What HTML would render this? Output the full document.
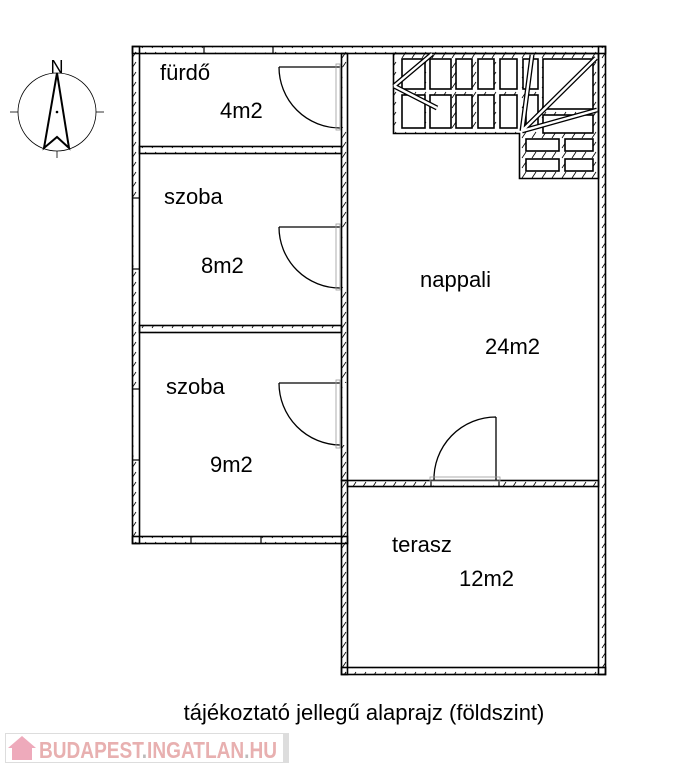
<!DOCTYPE html>
<html><head><meta charset="utf-8"><style>
html,body{margin:0;padding:0;background:#fff;}
svg{display:block;}
text{font-family:"Liberation Sans",Arial,sans-serif;fill:#000;}
</style></head><body>
<svg width="700" height="768" viewBox="0 0 700 768" xmlns="http://www.w3.org/2000/svg">
<defs>
<pattern id="h" width="10" height="10" patternUnits="userSpaceOnUse">
<line x1="2" y1="8" x2="6" y2="2" stroke="#000" stroke-width="0.8"/>
</pattern>
</defs>
<g stroke="#000" stroke-width="1.6" fill="url(#h)">
<rect x="132.5" y="46.5" width="473" height="7"/>
<rect x="132.5" y="46.5" width="7" height="497"/>
<rect x="598.5" y="46.5" width="7" height="628"/>
<rect x="132.5" y="536.5" width="215" height="7"/>
<rect x="341.5" y="480.5" width="6" height="194"/>
<rect x="341.5" y="667.5" width="264" height="7"/>
<rect x="341.5" y="53.5" width="6" height="427"/>
<rect x="139.5" y="146.5" width="202" height="7"/>
<rect x="139.5" y="325.5" width="202" height="7"/>
<rect x="347.5" y="480.5" width="251" height="6"/>
</g>
<g fill="#fff" stroke="none">
<rect x="204" y="47.5" width="69" height="5"/>
<rect x="133.5" y="389" width="5" height="71"/>
<rect x="133.5" y="198" width="5" height="71"/>
<rect x="191" y="537.5" width="70" height="5"/>
<rect x="431" y="481.5" width="68" height="4"/>
<rect x="342.5" y="67" width="4" height="60"/>
<rect x="342.5" y="227" width="4" height="60"/>
<rect x="342.5" y="383" width="4" height="62"/>
</g>
<g stroke="#000" stroke-width="1.2">
<line x1="204" y1="46.5" x2="204" y2="53.5"/><line x1="273" y1="46.5" x2="273" y2="53.5"/>
<line x1="132.5" y1="389" x2="139.5" y2="389"/><line x1="132.5" y1="460" x2="139.5" y2="460"/>
<line x1="132.5" y1="198" x2="139.5" y2="198"/><line x1="132.5" y1="269" x2="139.5" y2="269"/>
<line x1="191" y1="536.5" x2="191" y2="543.5"/><line x1="261" y1="536.5" x2="261" y2="543.5"/>
<line x1="431" y1="480.5" x2="431" y2="486.5"/><line x1="499" y1="480.5" x2="499" y2="486.5"/>
</g>
<g stroke="#000" stroke-width="1.3" fill="none">
<path d="M279 67 H340 M279 67 A61 61 0 0 0 340 128"/>
<path d="M279 227 H340 M279 227 A61 61 0 0 0 340 288"/>
<path d="M279 383 H340 M279 383 A62 62 0 0 0 340 445"/>
<path d="M496 417 V481 M496 417 A62 62 0 0 0 434 481"/>
</g>
<g stroke="#999" stroke-width="0.8" fill="none">
<rect x="336" y="64" width="4" height="66"/>
<rect x="336" y="224" width="4" height="66"/>
<rect x="336" y="380" width="4" height="68"/>
<rect x="430" y="477" width="70" height="4"/>
</g>
<g stroke="#000" stroke-width="1.6" fill="url(#h)">
<path d="M393.5 53.5 V133.5 H519.5 V178.5 H598.5 V53.5 Z"/>
</g>
<g stroke="#000" stroke-width="1.6" fill="#fff">
<rect x="402" y="59" width="23" height="30"/><rect x="430" y="59" width="21" height="30"/>
<rect x="456" y="59" width="16" height="30"/><rect x="478" y="59" width="16" height="30"/>
<rect x="500" y="59" width="17" height="30"/><rect x="523" y="59" width="15" height="30"/>
<rect x="402" y="95" width="23" height="33"/><rect x="430" y="95" width="21" height="33"/>
<rect x="456" y="95" width="16" height="33"/><rect x="478" y="95" width="16" height="33"/>
<rect x="500" y="95" width="17" height="33"/><rect x="526" y="95" width="12" height="33"/>
<rect x="543" y="59" width="50" height="50"/><rect x="543" y="115" width="50" height="18"/>
<rect x="526" y="139" width="33" height="12"/><rect x="565" y="139" width="28" height="12"/>
<rect x="526" y="159" width="33" height="12"/><rect x="565" y="159" width="28" height="12"/>
</g>
<g stroke="#000" stroke-width="5" fill="none"><path d="M394 86 L432 54 M394 86 L437 108 M522 131 L532 55 M522 131 L596 58 M522 131 L597 110"/></g>
<g stroke="#fff" stroke-width="2.4" fill="none"><path d="M394 86 L432 54 M394 86 L437 108 M522 131 L532 55 M522 131 L596 58 M522 131 L597 110"/></g>
<g stroke="#000" fill="none">
<circle cx="57" cy="112" r="39" stroke-width="0.8"/>
<line x1="10" y1="112" x2="18" y2="112" stroke-width="0.8"/><line x1="96" y1="112" x2="104" y2="112" stroke-width="0.8"/>
<line x1="57" y1="151" x2="57" y2="158" stroke-width="0.8"/>
<path d="M57 73 L44 148 L57 137 L69 148 Z" stroke-width="2"/>
</g>
<circle cx="57" cy="112" r="1.3" fill="#000"/>
<text x="57" y="73" font-size="18" text-anchor="middle">N</text>
<g font-size="22">
<text x="160" y="80">fürdő</text>
<text x="220" y="118">4m2</text>
<text x="164" y="204">szoba</text>
<text x="201" y="273">8m2</text>
<text x="166" y="394">szoba</text>
<text x="210" y="472">9m2</text>
<text x="420" y="287">nappali</text>
<text x="485" y="354">24m2</text>
<text x="392" y="552">terasz</text>
<text x="459" y="586">12m2</text>
<text x="364" y="720" text-anchor="middle" font-size="22">tájékoztató jellegű alaprajz (földszint)</text>
</g>
<rect x="5.5" y="733.5" width="283" height="29" fill="#fff" stroke="#ddd"/>
<rect x="283" y="734" width="5" height="28" fill="#ddd"/>
<path d="M8 748 L22 736 L36 748 Z" fill="#eab"/>
<rect x="12" y="748" width="20" height="12" fill="#eab"/>
<text x="39" y="758" font-size="23" font-weight="bold" textLength="238" lengthAdjust="spacingAndGlyphs" style="fill:#e8b0b0">BUDAPEST<tspan style="fill:#bbb">.</tspan>INGATLAN<tspan style="fill:#bbb">.</tspan>HU</text>
</svg>
</body></html>
